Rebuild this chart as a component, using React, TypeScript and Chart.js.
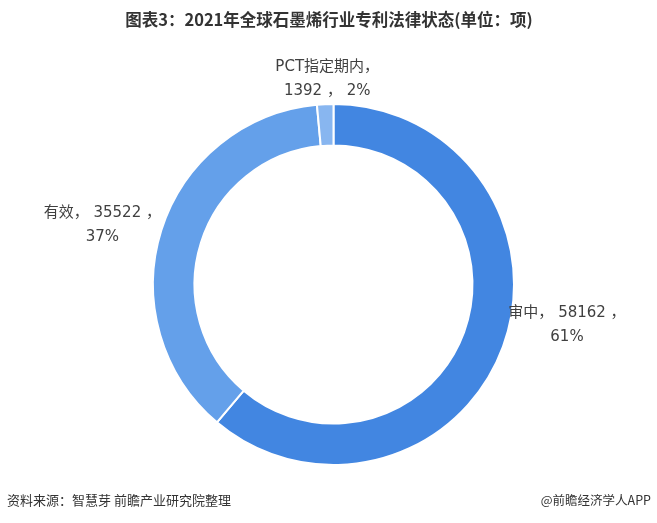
import React, { useEffect, useRef } from "react";
import { Chart, registerables } from "chart.js";

Chart.register(...registerables);

const TITLE = "图表3：2021年全球石墨烯行业专利法律状态(单位：项)";
const SOURCE = "资料来源：智慧芽 前瞻产业研究院整理";
const CREDIT = "@前瞻经济学人APP";

const categories = ["审中", "有效", "PCT指定期内"];
const values = [58162, 35522, 1392];
const percents = [61, 37, 2];
const colors = ["#4286E1", "#64A0EA", "#88B6F0"];

// label text lines built from the data
const labelLines = [
  [`${categories[0]}， ${values[0]} ，`, `${percents[0]}%`],
  [`${categories[1]}， ${values[1]} ，`, `${percents[1]}%`],
  [`${categories[2]}，`, `${values[2]} ， ${percents[2]}%`],
];
// label offsets relative to the outer edge point at the arc's mid angle
const labelOffsets = [
  { dx: 64, dy: -21 },
  { dx: -59, dy: -5 },
  { dx: 2, dy: -25 },
];

const FONT = '"Noto Sans CJK SC", "Noto Sans", sans-serif';
const LABEL_FONT = '"DejaVu Sans", "Noto Sans CJK SC", sans-serif';

const textPlugin = {
  id: "textPlugin",
  afterDraw(chart: any) {
    const ctx = chart.ctx as CanvasRenderingContext2D;
    ctx.save();
    // title
    ctx.fillStyle = "#333333";
    ctx.font = `bold 16.5px ${FONT}`;
    ctx.textAlign = "center";
    ctx.textBaseline = "middle";
    ctx.fillText(TITLE, 329, 20);
    // footer
    ctx.font = `13px ${FONT}`;
    ctx.fillStyle = "#333333";
    ctx.textAlign = "left";
    ctx.fillText(SOURCE, 7, 500);
    ctx.font = `12.5px ${FONT}`;
    ctx.textAlign = "right";
    ctx.fillText(CREDIT, 651, 500);
    // slice labels
    const meta = chart.getDatasetMeta(0);
    ctx.font = `15px ${LABEL_FONT}`;
    ctx.fillStyle = "#404040";
    ctx.textAlign = "center";
    meta.data.forEach((arc: any, i: number) => {
      const p = arc.getProps(["x", "y", "startAngle", "endAngle", "outerRadius"], true);
      const mid = (p.startAngle + p.endAngle) / 2;
      const px = p.x + Math.cos(mid) * p.outerRadius + labelOffsets[i].dx;
      const py = p.y + Math.sin(mid) * p.outerRadius + labelOffsets[i].dy;
      const lines = labelLines[i];
      ctx.fillText(lines[0], px, py - 12);
      ctx.fillText(lines[1], px, py + 12);
    });
    ctx.restore();
  },
};

export default function App() {
  const ref = useRef<HTMLCanvasElement>(null);
  useEffect(() => {
    if (!ref.current) return;
    const chart = new Chart(ref.current, {
      type: "doughnut",
      data: {
        labels: categories,
        datasets: [
          {
            data: values,
            backgroundColor: colors,
            borderColor: "#ffffff",
            borderWidth: 2,
          },
        ],
      },
      options: {
        responsive: false,
        animation: false,
        cutout: "77%",
        layout: { padding: { top: 103, bottom: 57, left: 152, right: 142 } },
        plugins: {
          legend: { display: false },
          tooltip: { enabled: false },
          title: { display: false },
        },
      },
      plugins: [textPlugin],
    });
    return () => chart.destroy();
  }, []);
  return (
    <div style={{ position: "fixed", left: 0, top: 0, width: 657, height: 523, background: "#fff" }}>
      <canvas ref={ref} width={657} height={523} style={{ width: 657, height: 523 }} />
    </div>
  );
}
